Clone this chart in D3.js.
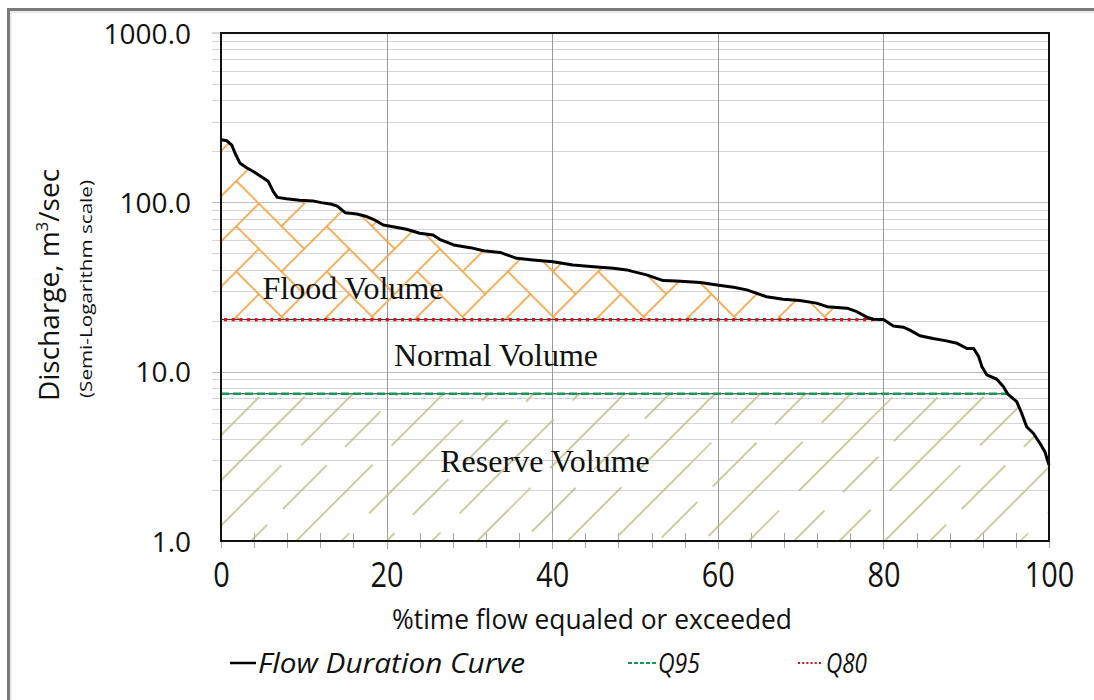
<!DOCTYPE html>
<html>
<head>
<meta charset="utf-8">
<script src="https://cdn.jsdelivr.net/npm/d3@7"></script>
<style>
  body { margin: 0; background: #fff; }
  svg { display: block; }
</style>
</head>
<body>
<svg id="chart" width="1094" height="700"></svg>
<script>
// Flow duration curve: % of time a discharge is equaled or exceeded
const exceedancePct = [0, 0.7, 1.3, 1.7, 2.3, 3.1, 4.1, 5.1, 5.7, 6.3,
  6.8, 7.9, 9.5, 11.1, 12.1, 13.2, 14.0, 15.0, 16.4, 17.6,
  18.4, 19.6, 20.8, 22.4, 24.0, 25.6, 26.4, 28.1, 30.1, 31.7,
  33.7, 35.7, 37.7, 40.1, 42.5, 45.0, 47.4, 49.0, 49.8, 51.4,
  53.4, 55.0, 57.9, 59.9, 61.9, 63.5, 65.9, 67.9, 69.9, 71.9,
  73.2, 75.6, 76.8, 78.0, 78.8, 80.0, 81.2, 82.4, 83.2, 84.4,
  86.0, 87.6, 88.9, 90.1, 90.9, 91.5, 91.9, 92.5, 93.7, 94.5,
  95.0, 96.1, 96.7, 97.3, 98.1, 98.9, 99.5, 100];
const dischargeValues = [234, 231, 218, 195, 170, 160, 150, 139, 133, 116,
  107, 105, 103, 102, 99.6, 97.9, 95.2, 86.9, 85.4, 82.4,
  79.4, 73.5, 71.8, 69.3, 65.7, 64.2, 60.5, 56.0, 54.0, 51.8,
  50.6, 46.7, 45.7, 44.6, 42.7, 41.7, 40.8, 39.9, 39.0, 37.3,
  34.5, 34.3, 33.6, 32.5, 31.5, 30.4, 27.7, 26.8, 26.3, 25.4,
  24.2, 23.7, 22.6, 21.0, 20.4, 20.3, 18.6, 18.3, 17.6, 16.3,
  15.7, 15.2, 14.7, 13.7, 13.7, 12.3, 10.7, 9.56, 9.02, 8.15,
  7.4, 6.65, 5.68, 4.73, 4.33, 3.78, 3.37, 2.81];

// Threshold flows
const q80Pct = 80, q80Value = 20.3;
const q95Pct = 95, q95Value = 7.4;

// Axis ticks
const yTickValues = [1, 10, 100, 1000];
const xTickValues = [0, 20, 40, 60, 80, 100];
const xMinorStep = 4;

// Texts
const regionLabels = ["Flood Volume", "Normal Volume", "Reserve Volume"];
const legendLabels = ["Flow Duration Curve", "Q95", "Q80"];

const svg = d3.select("#chart");
const W = 1094, H = 700;
const plot = { left: 221, right: 1049, top: 33, bottom: 541 };

const x = d3.scaleLinear().domain([0, 100]).range([plot.left, plot.right]);
const y = d3.scaleLog().domain([1, 1000]).range([plot.bottom, plot.top]);

const curve = exceedancePct.map((p, i) => ({ p, q: dischargeValues[i] }));

svg.append("rect").attr("width", W).attr("height", H).attr("fill", "#fff");

// outer frame
svg.append("path").attr("d", `M8.5,${H + 5} V9.5 H${W + 5}`)
  .attr("fill", "none").attr("stroke", "#7a7a7a").attr("stroke-width", 3);
svg.append("path").attr("d", `M11,${H + 5} V12 H${W + 5}`)
  .attr("fill", "none").attr("stroke", "#d8d8d8").attr("stroke-width", 1);

// ---------- hatch patterns ----------
const defs = svg.append("defs");

// herringbone for flood volume (chevrons pointing up/down)
const bw = 32;
const flood = defs.append("pattern")
  .attr("id", "floodHatch")
  .attr("patternUnits", "userSpaceOnUse")
  .attr("width", 4 * bw).attr("height", 4 * bw)
  .attr("patternTransform", "translate(10,0) rotate(-45)");
const hBricks = [[0, 0], [1, 3], [2, 2], [3, 1]];
const vBricks = [[2, 0], [3, 3], [0, 2], [1, 1]];
const shifts = [-4, 0, 4];
const brickRects = [];
hBricks.forEach(([a, b]) => shifts.forEach(dx => shifts.forEach(dy =>
  brickRects.push({ x: a + dx, y: b + dy, w: 2, h: 1 }))));
vBricks.forEach(([a, b]) => shifts.forEach(dx => shifts.forEach(dy =>
  brickRects.push({ x: a + dx, y: b + dy, w: 1, h: 2 }))));
flood.selectAll("rect").data(brickRects).join("rect")
  .attr("x", d => d.x * bw).attr("y", d => d.y * bw)
  .attr("width", d => d.w * bw).attr("height", d => d.h * bw)
  .attr("fill", "none").attr("stroke", "#f4a64a").attr("stroke-width", 1.3);

// dashed upward diagonals for reserve volume
const reserve = defs.append("pattern")
  .attr("id", "reserveHatch")
  .attr("patternUnits", "userSpaceOnUse")
  .attr("width", 160).attr("height", 96)
  .attr("patternTransform", "rotate(-45)");
const dashSegs = [
  [16, 0, 95], [16, 122, 160],
  [48, 0, 30], [48, 58, 160],
  [80, 0, 62], [80, 88, 138]
];
reserve.selectAll("line").data(dashSegs).join("line")
  .attr("x1", d => d[1]).attr("x2", d => d[2])
  .attr("y1", d => d[0]).attr("y2", d => d[0])
  .attr("stroke", "#bcb97f").attr("stroke-width", 1.3);

// ---------- grid ----------
const grid = svg.append("g");
const minorY = [];
for (let dec = 1; dec < 1000; dec *= 10) {
  for (let k = 1; k <= 9; k++) minorY.push(dec * k);
}
grid.selectAll("line.hg").data(minorY.filter(v => v > 1)).join("line")
  .attr("class", "hg")
  .attr("x1", plot.left - 9).attr("x2", plot.right)
  .attr("y1", d => Math.round(y(d)) + 0.5).attr("y2", d => Math.round(y(d)) + 0.5)
  .attr("stroke", d => yTickValues.includes(d) ? "#bdbdbd" : "#d6d6d6")
  .attr("stroke-width", 1.2);
// tick at top
grid.append("line").attr("x1", plot.left - 9).attr("x2", plot.left)
  .attr("y1", y(1000)).attr("y2", y(1000)).attr("stroke", "#bdbdbd").attr("stroke-width", 1.2);

grid.selectAll("line.vg").data(xTickValues.filter(v => v > 0 && v < 100)).join("line")
  .attr("class", "vg")
  .attr("x1", d => Math.round(x(d)) + 0.5).attr("x2", d => Math.round(x(d)) + 0.5)
  .attr("y1", plot.top).attr("y2", plot.bottom + 8)
  .attr("stroke", "#9a9a9a").attr("stroke-width", 1);

// minor x ticks
const minorX = d3.range(0, 100 + 0.001, xMinorStep);
grid.selectAll("line.xt").data(minorX).join("line")
  .attr("class", "xt")
  .attr("x1", d => Math.round(x(d)) + 0.5).attr("x2", d => Math.round(x(d)) + 0.5)
  .attr("y1", plot.bottom - 8).attr("y2", plot.bottom + 7)
  .attr("stroke", "#a8a8a8").attr("stroke-width", 1);

// ---------- hatched volumes ----------
const floodArea = d3.area()
  .x(d => x(d.p))
  .y0(y(q80Value))
  .y1(d => y(Math.max(d.q, q80Value)));
svg.append("path").datum(curve.filter(d => d.p <= q80Pct))
  .attr("d", floodArea).attr("fill", "url(#floodHatch)");

const reserveArea = d3.area()
  .x(d => x(d.p))
  .y0(y(1))
  .y1(d => y(Math.min(d.q, q95Value)));
svg.append("path").datum(curve)
  .attr("d", reserveArea).attr("fill", "url(#reserveHatch)");

// ---------- threshold lines ----------
svg.append("line").attr("x1", x(0)).attr("x2", x(q95Pct))
  .attr("y1", y(q95Value)).attr("y2", y(q95Value))
  .attr("stroke", "#2b2b2b").attr("stroke-width", 1);
svg.append("line").attr("x1", x(0)).attr("x2", x(q95Pct))
  .attr("y1", y(q95Value)).attr("y2", y(q95Value))
  .attr("stroke", "#0f9a55").attr("stroke-width", 2.5)
  .attr("stroke-dasharray", "8 4");

svg.append("line").attr("x1", x(0)).attr("x2", x(q80Pct))
  .attr("y1", y(q80Value)).attr("y2", y(q80Value))
  .attr("stroke", "#2b2b2b").attr("stroke-width", 1);
svg.append("line").attr("x1", x(0) + 3).attr("x2", x(q80Pct))
  .attr("y1", y(q80Value)).attr("y2", y(q80Value))
  .attr("stroke", "#e3101c").attr("stroke-width", 3.2)
  .attr("stroke-dasharray", "3 4.7");

// ---------- flow duration curve ----------
svg.append("path").datum(curve)
  .attr("d", d3.line().x(d => x(d.p)).y(d => y(d.q)))
  .attr("fill", "none").attr("stroke", "#000").attr("stroke-width", 3)
  .attr("stroke-linejoin", "round");

// plot border
svg.append("rect")
  .attr("x", plot.left).attr("y", plot.top)
  .attr("width", plot.right - plot.left).attr("height", plot.bottom - plot.top)
  .attr("fill", "none").attr("stroke", "#111").attr("stroke-width", 2);

// ---------- axes labels ----------
const sans = "'Open Sans', 'Noto Sans', sans-serif";
const serif = "'Liberation Serif', 'DejaVu Serif', serif";

const yAxis = d3.axisLeft(y).tickValues(yTickValues)
  .tickFormat(d3.format(".1f")).tickSize(0).tickPadding(30);
const yg = svg.append("g").attr("transform", `translate(${plot.left},0)`).call(yAxis);
yg.select(".domain").remove();
yg.selectAll("text").attr("font-family", sans).attr("font-size", 28)
  .attr("fill", "#111").attr("dy", "0.36em");

const xAxis = d3.axisBottom(x).tickValues(xTickValues).tickSize(0).tickPadding(22);
const xg = svg.append("g").attr("transform", `translate(0,${plot.bottom})`).call(xAxis);
xg.select(".domain").remove();
xg.selectAll("text").attr("font-family", sans).attr("font-size", 34)
  .attr("fill", "#111")
  .attr("textLength", d => String(d).length * 16.5)
  .attr("lengthAdjust", "spacingAndGlyphs");

svg.append("text")
  .attr("x", 592).attr("y", 629)
  .attr("text-anchor", "middle")
  .attr("font-family", sans).attr("font-size", 28).attr("fill", "#111")
  .attr("textLength", 400).attr("lengthAdjust", "spacingAndGlyphs")
  .text("%time flow equaled or exceeded");

const yTitle = svg.append("text")
  .attr("transform", "translate(59,285) rotate(-90)")
  .attr("text-anchor", "middle")
  .attr("font-family", sans).attr("font-size", 28).attr("fill", "#111");
yTitle.append("tspan").text("Discharge, m");
yTitle.append("tspan").attr("font-size", 17).attr("dy", -11).text("3");
yTitle.append("tspan").attr("dy", 11).text("/sec");

svg.append("text")
  .attr("transform", "translate(92,289) rotate(-90)")
  .attr("text-anchor", "middle")
  .attr("font-family", sans).attr("font-size", 16).attr("fill", "#111")
  .attr("textLength", 218).attr("lengthAdjust", "spacingAndGlyphs")
  .text("(Semi-Logarithm scale)");

// ---------- region labels ----------
const regionPos = [[353, 299], [496, 366], [545, 472]];
svg.selectAll("text.region").data(regionLabels).join("text")
  .attr("class", "region")
  .attr("x", (d, i) => regionPos[i][0]).attr("y", (d, i) => regionPos[i][1])
  .attr("text-anchor", "middle")
  .attr("font-family", serif).attr("font-size", 32).attr("fill", "#111")
  .text(d => d);

// ---------- legend ----------
const lg = svg.append("g");
const legY = 663;
lg.append("line").attr("x1", 230).attr("x2", 256).attr("y1", legY).attr("y2", legY)
  .attr("stroke", "#000").attr("stroke-width", 2.5);
lg.append("line").attr("x1", 628).attr("x2", 656).attr("y1", legY).attr("y2", legY)
  .attr("stroke", "#0f9a55").attr("stroke-width", 2).attr("stroke-dasharray", "4 2");
lg.append("line").attr("x1", 798).attr("x2", 823).attr("y1", legY).attr("y2", legY)
  .attr("stroke", "#e3101c").attr("stroke-width", 2.2).attr("stroke-dasharray", "2 2.2");
const legText = [[258, 267], [658, 42], [826, 41]];
lg.selectAll("text").data(legendLabels).join("text")
  .attr("x", (d, i) => legText[i][0]).attr("y", legY + 10)
  .attr("font-family", sans).attr("font-style", "italic")
  .attr("font-size", 27).attr("fill", "#111")
  .attr("textLength", (d, i) => legText[i][1]).attr("lengthAdjust", "spacingAndGlyphs")
  .text(d => d);
</script>
</body>
</html>
